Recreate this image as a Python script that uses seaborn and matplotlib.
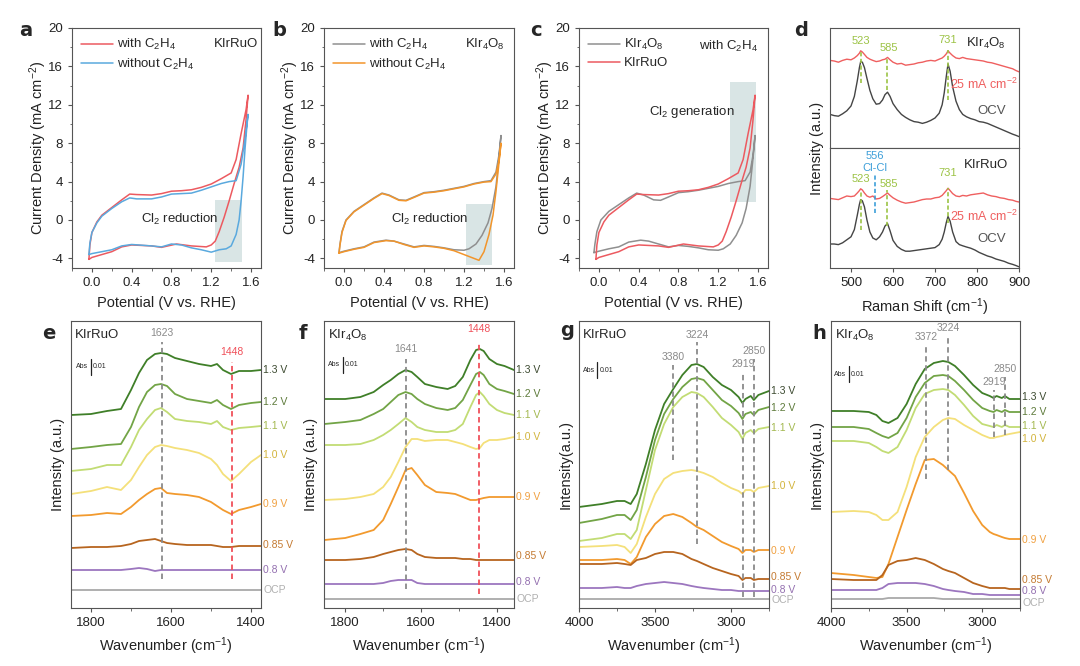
import seaborn as sns
import matplotlib.pyplot as plt
from matplotlib.patches import Rectangle
from matplotlib.ticker import AutoMinorLocator, MultipleLocator, FormatStrFormatter

# ---------------- CV data (potential V vs RHE, current density mA cm-2) ----------------
# KIrRuO with C2H4 (red)
ru_c2h4_pot = [-0.03, -0.02, 0.0, 0.05, 0.1, 0.2, 0.3, 0.38, 0.45, 0.6, 0.7, 0.8, 0.9, 1.0, 1.1, 1.2, 1.3, 1.4, 1.45,
               1.5, 1.55, 1.57, 1.55, 1.52, 1.48, 1.43, 1.38, 1.33, 1.28, 1.24, 1.2, 1.15, 1.0, 0.85, 0.7, 0.6, 0.4,
               0.3, 0.2, 0.1, 0.0, -0.03]
ru_c2h4_cur = [-4.1, -2.6, -1.3, -0.2, 0.5, 1.3, 2.1, 2.7, 2.65, 2.6, 2.75, 3.0, 3.05, 3.15, 3.4, 3.75, 4.3, 4.9, 6.3,
               9.0, 11.5, 13.0, 10.5, 7.5, 5.5, 3.8, 2.0, 0.3, -1.2, -2.2, -2.6, -2.8, -2.7, -2.5, -2.85, -2.7, -2.6,
               -2.8, -3.3, -3.6, -3.9, -4.1]
# KIrRuO without C2H4 (blue)
ru_noc2h4_pot = [-0.03, -0.02, 0.0, 0.05, 0.1, 0.2, 0.3, 0.38, 0.45, 0.6, 0.7, 0.8, 0.9, 1.0, 1.1, 1.2, 1.3, 1.38, 1.45,
                 1.5, 1.54, 1.57, 1.56, 1.54, 1.52, 1.5, 1.48, 1.45, 1.4, 1.35, 1.28, 1.2, 1.1, 1.0, 0.9, 0.8, 0.7,
                 0.6, 0.4, 0.3, 0.2, 0.1, 0.0, -0.03]
ru_noc2h4_cur = [-3.6, -2.4, -1.3, -0.3, 0.4, 1.2, 1.9, 2.3, 2.2, 2.2, 2.4, 2.7, 2.75, 2.8, 3.1, 3.45, 3.8, 4.0, 4.1,
                 5.8, 8.5, 11.0, 10.0, 7.5, 4.5, 2.0, 0.0, -1.5, -2.7, -3.0, -3.1, -3.35, -3.1, -2.9, -2.6, -2.5, -2.8,
                 -2.7, -2.55, -2.7, -3.1, -3.3, -3.5, -3.6]
# KIr4O8 with C2H4 (grey)
ir_c2h4_pot = [-0.05, -0.04, -0.02, 0.02, 0.1, 0.2, 0.3, 0.38, 0.45, 0.55, 0.62, 0.7, 0.8, 0.9, 1.0, 1.1, 1.2, 1.3, 1.4,
               1.47, 1.52, 1.55, 1.57, 1.55, 1.52, 1.48, 1.44, 1.38, 1.32, 1.25, 1.2, 1.1, 1.0, 0.9, 0.8, 0.7, 0.6,
               0.5, 0.42, 0.3, 0.2, 0.1, 0.0, -0.05]
ir_c2h4_cur = [-3.4, -2.5, -1.2, 0.0, 0.9, 1.6, 2.3, 2.8, 2.6, 2.1, 2.05, 2.4, 2.85, 2.95, 3.1, 3.3, 3.5, 3.8, 4.0,
               4.1, 5.0, 6.8, 8.8, 6.5, 3.5, 1.2, -0.3, -1.6, -2.5, -3.0, -3.15, -3.1, -2.9, -2.75, -2.65, -2.8, -2.5,
               -2.2, -2.1, -2.3, -2.8, -3.0, -3.25, -3.4]
# KIr4O8 without C2H4 (orange)
ir_noc2h4_pot = [-0.05, -0.04, -0.02, 0.02, 0.1, 0.2, 0.3, 0.38, 0.45, 0.55, 0.62, 0.7, 0.8, 0.9, 1.0, 1.1, 1.2, 1.3,
                 1.4, 1.47, 1.52, 1.55, 1.57, 1.55, 1.52, 1.49, 1.45, 1.4, 1.35, 1.3, 1.2, 1.1, 1.0, 0.9, 0.8, 0.7,
                 0.6, 0.5, 0.42, 0.3, 0.2, 0.1, 0.0, -0.05]
ir_noc2h4_cur = [-3.45, -2.6, -1.3, -0.05, 0.85, 1.55, 2.25, 2.75, 2.55, 2.05, 2.0, 2.35, 2.8, 2.9, 3.05, 3.25, 3.45,
                 3.75, 3.95, 4.0, 4.8, 6.2, 8.0, 6.0, 3.0, 0.5, -1.5, -3.3, -4.2, -4.0, -3.6, -3.2, -2.95, -2.8, -2.7,
                 -2.85, -2.55, -2.2, -2.15, -2.35, -2.85, -3.05, -3.3, -3.45]

# ---------------- Raman data (normalised intensity inside each sub-panel) ----------------
raman_shift = [450, 460, 470, 480, 490, 500, 508, 515, 520, 523, 527, 532, 538, 545, 552, 560, 568, 575, 581, 587,
               593, 600, 610, 620, 630, 640, 650, 660, 670, 680, 690, 700, 710, 717, 722, 727, 731, 736, 742, 750,
               758, 766, 775, 785, 795, 805, 815, 825, 835, 845, 855, 865, 875, 885, 893, 900]
ir_raman_25 = [0.73, 0.725, 0.715, 0.73, 0.74, 0.735, 0.75, 0.77, 0.79, 0.81, 0.80, 0.78, 0.755, 0.74, 0.73, 0.72,
               0.725, 0.735, 0.74, 0.755, 0.735, 0.715, 0.70, 0.705, 0.69, 0.695, 0.70, 0.71, 0.715, 0.725, 0.73,
               0.725, 0.74, 0.75, 0.765, 0.785, 0.81, 0.79, 0.77, 0.75, 0.745, 0.755, 0.745, 0.74, 0.735, 0.73,
               0.725, 0.715, 0.71, 0.70, 0.69, 0.68, 0.67, 0.66, 0.645, 0.635]
ir_raman_ocv = [0.28, 0.27, 0.265, 0.285, 0.31, 0.35, 0.43, 0.56, 0.67, 0.72, 0.715, 0.67, 0.58, 0.48, 0.41, 0.365,
                0.37, 0.40, 0.445, 0.465, 0.43, 0.37, 0.32, 0.28, 0.255, 0.235, 0.22, 0.215, 0.205, 0.215, 0.23, 0.25,
                0.29, 0.36, 0.46, 0.60, 0.70, 0.64, 0.51, 0.39, 0.32, 0.28, 0.26, 0.245, 0.235, 0.22, 0.215, 0.205,
                0.19, 0.175, 0.16, 0.145, 0.13, 0.115, 0.105, 0.095]
ru_raman_25 = [0.58, 0.575, 0.57, 0.585, 0.60, 0.595, 0.60, 0.625, 0.645, 0.66, 0.65, 0.625, 0.60, 0.59, 0.60, 0.575,
               0.58, 0.595, 0.61, 0.625, 0.605, 0.585, 0.565, 0.55, 0.54, 0.545, 0.55, 0.56, 0.57, 0.575, 0.575, 0.585,
               0.59, 0.605, 0.625, 0.645, 0.665, 0.645, 0.62, 0.60, 0.595, 0.605, 0.60, 0.61, 0.615, 0.62, 0.625, 0.61,
               0.60, 0.595, 0.585, 0.58, 0.57, 0.565, 0.555, 0.55]
ru_raman_ocv = [0.20, 0.20, 0.195, 0.21, 0.235, 0.26, 0.32, 0.44, 0.53, 0.57, 0.56, 0.51, 0.40, 0.30, 0.25, 0.235,
                0.26, 0.30, 0.35, 0.37, 0.31, 0.23, 0.18, 0.155, 0.14, 0.14, 0.145, 0.15, 0.155, 0.16, 0.165, 0.17,
                0.195, 0.24, 0.30, 0.38, 0.43, 0.39, 0.30, 0.22, 0.195, 0.185, 0.175, 0.165, 0.15, 0.13, 0.115, 0.10,
                0.09, 0.075, 0.065, 0.055, 0.04, 0.03, 0.02, 0.01]

# ---------------- FTIR data (stacked, a.u.) ----------------
volt_labels = ['1.3 V', '1.2 V', '1.1 V', '1.0 V', '0.9 V', '0.85 V', '0.8 V', 'OCP']

e_wn = [1850, 1800, 1760, 1725, 1700, 1680, 1660, 1640, 1625, 1610, 1590, 1560, 1530, 1500, 1485, 1470, 1450, 1430,
        1400, 1375]
e_spectra = {
    '1.3 V': [193, 194, 197, 199, 218, 235, 248, 254, 255, 254, 250, 247, 244, 242, 244, 238, 234, 237, 237, 238],
    '1.2 V': [159, 161, 163, 164, 181, 201, 216, 223, 224, 222, 214, 209, 207, 205, 208, 203, 199, 203, 205, 206],
    '1.1 V': [137, 139, 143, 143, 161, 178, 189, 198, 200, 196, 189, 187, 186, 184, 187, 181, 178, 180, 181, 182],
    '1.0 V': [114, 117, 121, 118, 128, 141, 153, 161, 163, 162, 160, 158, 155, 149, 143, 134, 127, 134, 146, 153],
    '0.9 V': [92, 93, 95, 94, 101, 108, 114, 119, 120, 115, 114, 113, 111, 106, 102, 98, 94, 98, 101, 104],
    '0.85 V': [60, 61, 61, 62, 64, 67, 68, 69, 67, 65, 64, 63, 63, 63, 62, 61, 61, 62, 62, 62],
    '0.8 V': [38, 38, 38, 38, 39, 40, 39, 37, 38, 38, 38, 38, 38, 38, 38, 38, 38, 38, 38, 38],
    'OCP': [18, 18, 18, 18, 18, 18, 18, 18, 18, 18, 18, 18, 18, 18, 18, 18, 18, 18, 18, 18],
}

f_wn = [1855, 1800, 1760, 1725, 1700, 1680, 1660, 1641, 1625, 1610, 1590, 1560, 1530, 1510, 1490, 1470, 1455, 1445,
        1435, 1420, 1400, 1380, 1355]
f_spectra = {
    '1.3 V': [209, 209, 211, 216, 223, 228, 234, 238, 236, 231, 224, 221, 219, 222, 231, 248, 258, 259, 257, 249, 244,
              242, 238],
    '1.2 V': [184, 186, 188, 194, 199, 206, 213, 216, 214, 209, 204, 200, 198, 200, 208, 223, 234, 236, 233, 224, 219,
              217, 214],
    '1.1 V': [163, 163, 164, 168, 173, 178, 184, 190, 186, 181, 178, 176, 176, 178, 184, 201, 213, 216, 212, 204, 198,
              195, 193],
    '1.0 V': [108, 109, 111, 114, 121, 131, 146, 161, 169, 169, 167, 168, 168, 166, 164, 161, 159, 160, 165, 168, 168,
              169, 171],
    '0.9 V': [68, 70, 74, 78, 88, 104, 121, 138, 140, 133, 123, 116, 115, 114, 111, 108, 108, 109, 110, 111, 111, 111,
              111],
    '0.85 V': [48, 48, 49, 51, 54, 56, 58, 59, 58, 54, 51, 50, 50, 50, 49, 49, 48, 48, 48, 48, 48, 48, 48],
    '0.8 V': [24, 24, 24, 24, 25, 27, 28, 28, 28, 25, 24, 24, 24, 24, 24, 24, 24, 24, 24, 24, 24, 24, 24],
    'OCP': [9, 9, 9, 9, 9, 9, 9, 9, 9, 9, 9, 9, 9, 9, 9, 9, 9, 9, 9, 9, 9, 9, 9],
}

gh_wn = [4000, 3850, 3750, 3700, 3660, 3620, 3560, 3500, 3440, 3380, 3320, 3260, 3224, 3180, 3120, 3060, 3000, 2950,
         2925, 2905, 2870, 2850, 2820, 2750]
g_spectra = {
    '1.3 V': [101, 104, 107, 107, 104, 114, 144, 178, 204, 219, 233, 243, 244, 241, 231, 223, 218, 211, 205, 209, 212,
              208, 213, 217],
    '1.2 V': [85, 89, 93, 93, 88, 98, 131, 168, 194, 209, 221, 229, 230, 228, 218, 208, 202, 195, 189, 194, 196, 193,
              198, 201],
    '1.1 V': [67, 70, 74, 74, 69, 78, 118, 158, 184, 201, 211, 216, 215, 211, 201, 190, 183, 176, 169, 175, 178, 175,
              179, 181],
    '1.0 V': [61, 62, 63, 61, 55, 64, 91, 114, 129, 135, 137, 138, 137, 135, 131, 125, 120, 117, 114, 118, 118, 116,
              120, 122],
    '0.9 V': [48, 48, 49, 48, 44, 51, 71, 84, 92, 94, 91, 85, 81, 78, 72, 66, 62, 59, 55, 58, 58, 56, 58, 58],
    '0.85 V': [44, 44, 45, 44, 43, 48, 50, 54, 56, 56, 54, 49, 47, 44, 40, 37, 34, 32, 28, 30, 30, 28, 29, 29],
    '0.8 V': [20, 20, 21, 20, 20, 22, 24, 25, 26, 25, 24, 22, 21, 20, 19, 18, 18, 17, 17, 17, 17, 17, 17, 17],
    'OCP': [9, 9, 9, 9, 9, 9, 9, 9, 9, 9, 9, 9, 9, 9, 9, 9, 9, 9, 9, 9, 9, 9, 9, 9],
}
h_spectra = {
    '1.3 V': [197, 197, 196, 193, 187, 185, 190, 204, 224, 239, 245, 247, 246, 242, 233, 223, 215, 212, 210, 212, 210,
              212, 209, 209],
    '1.2 V': [181, 181, 179, 175, 172, 170, 175, 190, 211, 225, 232, 233, 232, 227, 218, 208, 200, 197, 196, 198, 196,
              198, 196, 196],
    '1.1 V': [167, 167, 165, 161, 157, 155, 161, 178, 200, 214, 218, 219, 218, 213, 203, 192, 184, 182, 181, 183, 181,
              183, 181, 181],
    '1.0 V': [96, 97, 96, 93, 88, 88, 96, 121, 151, 171, 181, 188, 190, 189, 183, 178, 173, 170, 170, 171, 172, 173,
              174, 176],
    '0.9 V': [35, 33, 31, 30, 31, 44, 71, 98, 124, 148, 149, 143, 138, 132, 115, 97, 83, 76, 74, 73, 71, 70, 69, 69],
    '0.85 V': [29, 28, 28, 28, 33, 43, 47, 48, 50, 48, 44, 39, 37, 35, 30, 25, 22, 20, 20, 20, 20, 20, 19, 19],
    '0.8 V': [18, 18, 18, 18, 20, 24, 25, 25, 25, 24, 22, 19, 18, 17, 16, 14, 14, 13, 13, 13, 13, 13, 13, 13],
    'OCP': [9, 9, 9, 9, 9, 10, 10, 10, 10, 10, 10, 9, 9, 9, 9, 9, 9, 9, 9, 9, 9, 9, 9, 9],
}

line_colors = ['#3f7f28', '#72a446', '#c2dc74', '#f4e07a', '#f29a2e', '#b7651f', '#9c76bf', '#a9a9a9']
text_colors = ['#3c4a30', '#5d7a3a', '#a3b84f', '#d2b43c', '#f0a040', '#c47a32', '#9470b0', '#b0b0b0']

# ---------------- style ----------------
sns.set_style("ticks")
plt.rcParams['font.family'] = ['Liberation Sans', 'DejaVu Sans']
plt.rcParams['mathtext.fontset'] = 'custom'
plt.rcParams['mathtext.rm'] = 'Liberation Sans'
plt.rcParams['mathtext.it'] = 'Liberation Sans:italic'
plt.rcParams['mathtext.bf'] = 'Liberation Sans:bold'
plt.rcParams['axes.unicode_minus'] = False
plt.rcParams['axes.edgecolor'] = '#555555'
plt.rcParams['axes.linewidth'] = 0.8
plt.rcParams['xtick.color'] = '#555555'
plt.rcParams['ytick.color'] = '#555555'
plt.rcParams['xtick.labelcolor'] = '#222222'
plt.rcParams['ytick.labelcolor'] = '#222222'
plt.rcParams['xtick.labelsize'] = 9.5
plt.rcParams['ytick.labelsize'] = 9.5
plt.rcParams['xtick.major.size'] = 3
plt.rcParams['ytick.major.size'] = 3
plt.rcParams['xtick.minor.size'] = 1.8
plt.rcParams['ytick.minor.size'] = 1.8
plt.rcParams['axes.labelsize'] = 10.5
plt.rcParams['axes.labelcolor'] = '#222222'

W, H = 1080, 666
fig = plt.figure(figsize=(10.8, 6.66), dpi=100)


def px_axes(left, top, right, bottom):
    return fig.add_axes([left / W, 1 - bottom / H, (right - left) / W, (bottom - top) / H])


def letter(x, y, s):
    fig.text(x / W, 1 - y / H, s, fontsize=14, fontweight='bold', family='DejaVu Sans', va='baseline')


# ---------------- CV panels ----------------
def cv_axes(ax):
    ax.set_xlim(-0.2, 1.7)
    ax.set_ylim(-5, 20)
    ax.xaxis.set_major_locator(MultipleLocator(0.4))
    ax.xaxis.set_minor_locator(MultipleLocator(0.2))
    ax.xaxis.set_major_formatter(FormatStrFormatter('%.1f'))
    ax.yaxis.set_major_locator(MultipleLocator(4))
    ax.yaxis.set_minor_locator(MultipleLocator(2))
    ax.set_xlabel('Potential (V vs. RHE)')
    ax.set_ylabel('Current Density (mA cm$^{-2}$)')
    ax.xaxis.set_label_coords(0.5, -0.115)
    ax.yaxis.set_label_coords(-0.12, 0.5)
    ax.tick_params(which='both', direction='out')


def cv_line(ax, pot, cur, color, label):
    sns.lineplot(x=pot, y=cur, ax=ax, sort=False, estimator=None, color=color, lw=1.1, label=label)


def cv_legend(ax):
    ax.legend(loc='upper left', bbox_to_anchor=(0.0, 1.0), frameon=False, fontsize=9.5, handlelength=2.4,
              handletextpad=0.3, labelspacing=0.35, borderaxespad=0.3)


def corner_text(ax, xfrac, y, s):
    ax.text(xfrac, y, s, transform=ax.get_yaxis_transform(), ha='right', va='center', fontsize=9.5)


shade = '#d9e5e5'
red, blue, grey, orange = '#ec5a60', '#5aa9de', '#8f8f8f', '#f2952b'

ax_a = px_axes(72, 28, 261, 268)
ax_a.add_patch(Rectangle((1.24, -4.4), 0.27, 6.5, color=shade, zorder=0, lw=0))
cv_line(ax_a, ru_c2h4_pot, ru_c2h4_cur, red, 'with C$_2$H$_4$')
cv_line(ax_a, ru_noc2h4_pot, ru_noc2h4_cur, blue, 'without C$_2$H$_4$')
cv_axes(ax_a)
cv_legend(ax_a)
corner_text(ax_a, 0.984, 18.3, 'KIrRuO')
ax_a.text(0.88, 0.1, 'Cl$_2$ reduction', ha='center', va='center', fontsize=9.5)

ax_b = px_axes(324, 28, 514, 268)
ax_b.add_patch(Rectangle((1.22, -4.7), 0.26, 6.4, color=shade, zorder=0, lw=0))
cv_line(ax_b, ir_c2h4_pot, ir_c2h4_cur, grey, 'with C$_2$H$_4$')
cv_line(ax_b, ir_noc2h4_pot, ir_noc2h4_cur, orange, 'without C$_2$H$_4$')
cv_axes(ax_b)
cv_legend(ax_b)
corner_text(ax_b, 0.953, 18.3, 'KIr$_4$O$_8$')
ax_b.text(0.86, 0.1, 'Cl$_2$ reduction', ha='center', va='center', fontsize=9.5)

ax_c = px_axes(579, 28, 768, 268)
ax_c.add_patch(Rectangle((1.32, 1.9), 0.26, 12.5, color=shade, zorder=0, lw=0))
cv_line(ax_c, ir_c2h4_pot, ir_c2h4_cur, grey, 'KIr$_4$O$_8$')
cv_line(ax_c, ru_c2h4_pot, ru_c2h4_cur, red, 'KIrRuO')
cv_axes(ax_c)
cv_legend(ax_c)
corner_text(ax_c, 0.947, 18.1, 'with C$_2$H$_4$')
ax_c.text(0.93, 11.3, 'Cl$_2$ generation', ha='center', va='center', fontsize=9.5)

# ---------------- Raman panel ----------------
green_d, blue_d, red_d, dark_d = '#9cc345', '#3d9fd9', '#ef5f5f', '#454545'
ax_d1 = px_axes(830, 28, 1019, 148)
ax_d2 = px_axes(830, 148, 1019, 268)
for ax in (ax_d1, ax_d2):
    ax.set_xlim(450, 900)
    ax.set_ylim(0, 1)
    ax.set_yticks([])
ax_d1.set_xticks([])
ax_d2.set_xticks([500, 600, 700, 800, 900])
ax_d2.set_xlabel('Raman Shift (cm$^{-1}$)')
ax_d2.xaxis.set_label_coords(0.5, -0.233)

sns.lineplot(x=raman_shift, y=ir_raman_25, ax=ax_d1, color=red_d, lw=1.0, sort=False, estimator=None)
sns.lineplot(x=raman_shift, y=ir_raman_ocv, ax=ax_d1, color=dark_d, lw=1.0, sort=False, estimator=None)
sns.lineplot(x=raman_shift, y=ru_raman_25, ax=ax_d2, color=red_d, lw=1.0, sort=False, estimator=None)
sns.lineplot(x=raman_shift, y=ru_raman_ocv, ax=ax_d2, color=dark_d, lw=1.0, sort=False, estimator=None)

dash = (0, (2.5, 1.5))
ax_d1.vlines([523, 585, 731], [0.54, 0.48, 0.40], [0.80, 0.74, 0.82], colors=green_d, lw=1.2, linestyles=dash)
ax_d2.vlines([523, 585, 731], [0.32, 0.35, 0.375], [0.65, 0.65, 0.67], colors=green_d, lw=1.2, linestyles=dash)
ax_d2.vlines([556], [0.46], [0.78], colors=blue_d, lw=1.2, linestyles=dash)
for ax, ys in ((ax_d1, (0.89, 0.83, 0.90)), (ax_d2, (0.74, 0.70, 0.79))):
    for xv, yv, s in zip((523, 590, 731), ys, ('523', '585', '731')):
        ax.text(xv, yv, s, color=green_d, fontsize=8, ha='center', va='center')
ax_d2.text(557, 0.93, '556', color=blue_d, fontsize=8, ha='center', va='center')
ax_d2.text(557, 0.83, 'Cl-Cl', color=blue_d, fontsize=8, ha='center', va='center')
ax_d1.text(820, 0.875, 'KIr$_4$O$_8$', fontsize=9.5, ha='center', va='center')
ax_d2.text(822, 0.86, 'KIrRuO', fontsize=9.5, ha='center', va='center')
for ax, y25, yocv in ((ax_d1, 0.53, 0.31), (ax_d2, 0.43, 0.24)):
    ax.text(816, y25, '25 mA cm$^{-2}$', color=red_d, fontsize=9, ha='center', va='center')
    ax.text(834, yocv, 'OCV', color='#555555', fontsize=9.5, ha='center', va='center')
fig.text(817 / W, 1 - 148 / H, 'Intensity (a.u.)', rotation=90, ha='center', va='center', fontsize=10.5,
         color='#222222')


# ---------------- FTIR panels ----------------
def ftir_panel(ax, wn, spectra, xlim, major, label_y, name, ylabel, ylab_x, scale_x, scale_y):
    for lab, c in zip(volt_labels, line_colors):
        sns.lineplot(x=wn, y=spectra[lab], ax=ax, color=c, lw=1.3, sort=False, estimator=None)
    ax.set_xlim(*xlim)
    ax.set_ylim(0, 287)
    ax.set_yticks([])
    ax.xaxis.set_major_locator(MultipleLocator(major))
    ax.xaxis.set_minor_locator(AutoMinorLocator(2))
    ax.tick_params(which='both', direction='out')
    ax.set_xlabel('Wavenumber (cm$^{-1}$)')
    ax.xaxis.set_label_coords(0.5, -0.097)
    ax.set_ylabel(ylabel)
    ax.yaxis.set_label_coords(ylab_x, 0.5)
    tr = ax.get_yaxis_transform()
    for lab, yv, tc in zip(volt_labels, label_y, text_colors):
        ax.text(1.012, yv, lab, transform=tr, color=tc, fontsize=7.5, ha='left', va='center', clip_on=False)
    ax.text(0.02, 273, name, transform=tr, fontsize=9.5, ha='left', va='center')
    ax.text(scale_x - 0.045, scale_y, 'Abs', transform=tr, fontsize=5, ha='center', va='center')
    ax.plot([scale_x, scale_x], [scale_y - 8, scale_y + 8], transform=tr, color='#222222', lw=0.9)
    ax.text(scale_x + 0.01, scale_y, '0.01', transform=tr, fontsize=5, ha='left', va='center')


def vmark(ax, x, y0, y1, ytext, s, color):
    ax.vlines([x], [y0], [y1], colors=color, lw=1.3, linestyles=(0, (3, 2)))
    ax.text(x, ytext, s, color=color, fontsize=7.5, ha='center', va='center')


grey_m, red_m = '#8a8a8a', '#f0505a'

ax_e = px_axes(71, 321, 261, 608)
ftir_panel(ax_e, e_wn, e_spectra, (1850, 1375), 200, [238, 206, 182, 153, 104, 63, 38, 18], 'KIrRuO',
           'Intensity (a.u.)', -0.033, 0.104, 241)
vmark(ax_e, 1623, 29, 266, 275, '1623', grey_m)
vmark(ax_e, 1448, 29, 246, 256, '1448', red_m)

ax_f = px_axes(324, 321, 514, 608)
ftir_panel(ax_f, f_wn, f_spectra, (1856, 1355), 200, [238, 214, 193, 171, 111, 52, 26, 9], 'KIr$_4$O$_8$',
           'Intensity (a.u.)', -0.033, 0.10, 243)
vmark(ax_f, 1641, 19, 249, 259, '1641', grey_m)
vmark(ax_f, 1448, 14, 266, 279, '1448', red_m)

ax_g = px_axes(579, 321, 769, 608)
ftir_panel(ax_g, gh_wn, g_spectra, (4000, 2750), 500, [217, 200, 180, 122, 57, 31, 18, 8], 'KIrRuO',
           'Intensity(a.u.)', -0.033, 0.097, 238)
vmark(ax_g, 3380, 148, 243, 251, '3380', grey_m)
vmark(ax_g, 3224, 64, 266, 273, '3224', grey_m)
vmark(ax_g, 2919, 11, 236, 244, '2919', grey_m)
vmark(ax_g, 2850, 11, 249, 257, '2850', grey_m)

ax_h = px_axes(831, 321, 1020, 608)
ftir_panel(ax_h, gh_wn, h_spectra, (4000, 2750), 500, [211, 196, 182, 169, 68, 28, 17, 5], 'KIr$_4$O$_8$',
           'Intensity(a.u.)', -0.04, 0.095, 234)
vmark(ax_h, 3372, 129, 263, 271, '3372', grey_m)
vmark(ax_h, 3224, 138, 272, 280, '3224', grey_m)
vmark(ax_h, 2919, 171, 218, 226, '2919', grey_m)
vmark(ax_h, 2850, 173, 231, 239, '2850', grey_m)

# panel letters
for s, x, y in (('a', 19, 36), ('b', 272, 36), ('c', 530, 36), ('d', 794, 36),
                ('e', 42, 339), ('f', 299, 339), ('g', 560, 336), ('h', 812, 339)):
    letter(x, y, s)

fig.savefig('out.png', dpi=100)
